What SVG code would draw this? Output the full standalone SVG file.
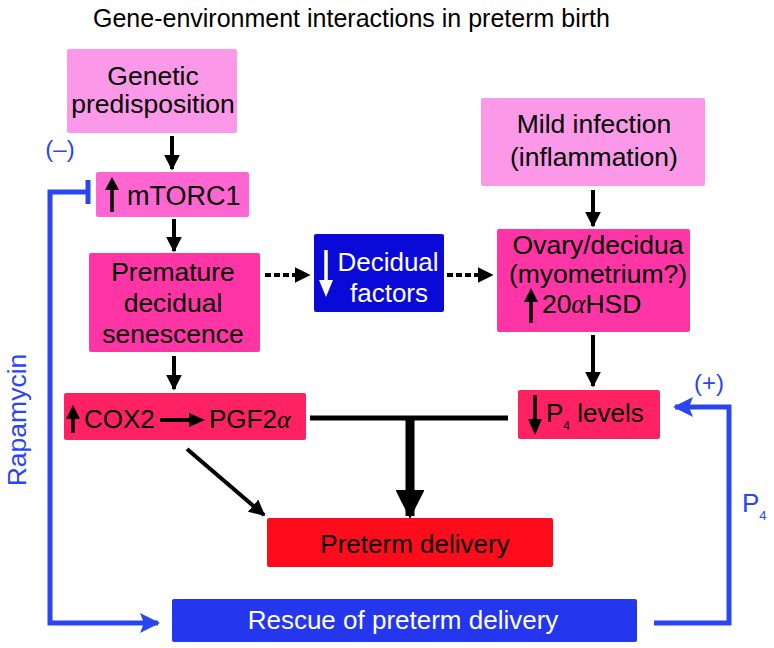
<svg xmlns="http://www.w3.org/2000/svg" width="774" height="648" viewBox="0 0 774 648">
<defs>
<marker id="ah" viewBox="0 0 10 10" refX="9" refY="5" markerWidth="4" markerHeight="4" orient="auto" markerUnits="strokeWidth"><path d="M0,0 L10,5 L0,10 z" fill="#000"/></marker>
<marker id="ahb" viewBox="0 0 10 10" refX="9" refY="5" markerWidth="5" markerHeight="4" orient="auto" markerUnits="strokeWidth"><path d="M0,0 L10,5 L0,10 L2,5 z" fill="#2a46f2"/></marker>
<marker id="ahbig" viewBox="0 0 10 10" refX="9" refY="5" markerWidth="3.2" markerHeight="3.2" orient="auto" markerUnits="strokeWidth"><path d="M0,0 L10,5 L0,10 z" fill="#000"/></marker>
</defs>
<style>
text{font-family:"Liberation Sans",Arial,sans-serif;}
.t{font-size:26.5px;fill:#000;text-anchor:middle;}
.w{font-size:26px;fill:#fff;text-anchor:middle;}
.b{fill:#2a46f2;}
.c{stroke:#000;stroke-width:4;fill:none;}
.blue{stroke:#2a46f2;stroke-width:5;fill:none;}
.g{font-family:"Liberation Serif",serif;font-style:italic;}
</style>
<rect width="774" height="648" fill="#fff"/>
<text x="93" y="27" font-size="25">Gene-environment interactions in preterm birth</text>

<g id="genetic">
<rect x="67" y="49" width="170" height="84" rx="2" fill="#fb99e8"/>
<text class="t" x="153" y="85" font-size="23">Genetic</text>
<text class="t" x="153" y="113" font-size="23">predisposition</text>
</g>
<g id="mtorc1">
<rect x="96" y="172" width="153" height="45" rx="2" fill="#ff66d2"/>
<line x1="112" y1="212" x2="112" y2="188" stroke="#000" stroke-width="3.5"/>
<path d="M105,190 L112,177 L119,190 z" fill="#000"/>
<text x="127" y="205" font-size="27">mTORC1</text>
</g>
<g id="senescence">
<rect x="89" y="253" width="171" height="99" rx="2" fill="#ff35a5"/>
<text class="t" x="173" y="281">Premature</text>
<text class="t" x="173" y="312">decidual</text>
<text class="t" x="173" y="343">senescence</text>
</g>
<g id="decidual">
<rect x="314" y="234" width="130" height="78" rx="2" fill="#0a0ad8"/>
<line x1="326" y1="250" x2="326" y2="282" stroke="#fff" stroke-width="3.5"/>
<path d="M319,280 L326,297 L333,280 z" fill="#fff"/>
<text class="w" x="388" y="271">Decidual</text>
<text class="w" x="389" y="302">factors</text>
</g>
<g id="infection">
<rect x="481" y="98" width="224" height="88" rx="2" fill="#fb99e8"/>
<text class="t" x="594" y="133">Mild infection</text>
<text class="t" x="594" y="166">(inflammation)</text>
</g>
<g id="ovary">
<rect x="497" y="229" width="193" height="103" rx="2" fill="#ff35a5"/>
<text class="t" x="598" y="254">Ovary/decidua</text>
<text class="t" x="598" y="283">(myometrium?)</text>
<line x1="531" y1="323" x2="531" y2="300" stroke="#000" stroke-width="3.5"/>
<path d="M524,302 L531,288 L538,302 z" fill="#000"/>
<text x="542" y="313" font-size="26.5">20<tspan class="g">α</tspan>HSD</text>
</g>
<g id="cox2">
<rect x="64" y="393" width="242" height="47" rx="2" fill="#ff2263"/>
<line x1="73" y1="433" x2="73" y2="418" stroke="#000" stroke-width="3.5"/>
<path d="M66,419 L73,405 L80,419 z" fill="#000"/>
<text x="84" y="428" font-size="26">COX2</text>
<line x1="160" y1="420" x2="192" y2="420" stroke="#000" stroke-width="4"/>
<path d="M189,413 L205,420 L189,427 z" fill="#000"/>
<text x="209" y="428" font-size="26">PGF2<tspan class="g">α</tspan></text>
</g>
<g id="p4levels">
<rect x="518" y="390" width="142" height="49" rx="2" fill="#ff2263"/>
<line x1="535" y1="395" x2="535" y2="420" stroke="#000" stroke-width="3.5"/>
<path d="M528,419 L535,435 L542,419 z" fill="#000"/>
<text x="546" y="422" font-size="26">P<tspan font-size="12" dy="8">4</tspan><tspan dy="-8"> levels</tspan></text>
</g>
<g id="preterm">
<rect x="267" y="518" width="286" height="49" rx="2" fill="#ff0c1c"/>
<text x="415" y="553" font-size="26" text-anchor="middle">Preterm delivery</text>
</g>
<g id="rescue">
<rect x="172" y="599" width="465" height="43" rx="2" fill="#2436ee"/>
<text class="w" x="403" y="629" font-size="26.5">Rescue of preterm delivery</text>
</g>

<g id="connectors">
<line class="c" x1="172" y1="136" x2="172" y2="169" marker-end="url(#ah)"/>
<line class="c" x1="174" y1="219" x2="174" y2="251" marker-end="url(#ah)"/>
<line class="c" x1="174" y1="356" x2="174" y2="389" marker-end="url(#ah)"/>
<line class="c" x1="593" y1="190" x2="593" y2="226" marker-end="url(#ah)"/>
<line class="c" x1="593" y1="335" x2="593" y2="386" marker-end="url(#ah)"/>
<line class="c" x1="265" y1="275" x2="309" y2="275" stroke-dasharray="6,3" marker-end="url(#ah)"/>
<line class="c" x1="447" y1="275" x2="492" y2="275" stroke-dasharray="6,3" marker-end="url(#ah)"/>
<line x1="310" y1="418" x2="508" y2="418" stroke="#000" stroke-width="5"/>
<line x1="410" y1="417" x2="410" y2="516" stroke="#000" stroke-width="9" marker-end="url(#ahbig)"/>
<line class="c" x1="187" y1="449" x2="264" y2="515" marker-end="url(#ah)"/>
<polyline class="blue" points="88,192 50,192 50,623 158,623" marker-end="url(#ahb)"/>
<line x1="88" y1="180" x2="88" y2="204" stroke="#2a46f2" stroke-width="5"/>
<polyline class="blue" points="654,623 729,623 729,407 675,407" marker-end="url(#ahb)"/>
</g>
<text class="b" x="60" y="157" font-size="24" text-anchor="middle">(–)</text>
<text class="b" x="709" y="391" font-size="24" text-anchor="middle">(+)</text>
<text class="b" x="742" y="512" font-size="26">P<tspan font-size="13" dy="8">4</tspan></text>
<text class="b" x="26" y="420" font-size="26.5" text-anchor="middle" transform="rotate(-90 26 420)">Rapamycin</text>
</svg>
